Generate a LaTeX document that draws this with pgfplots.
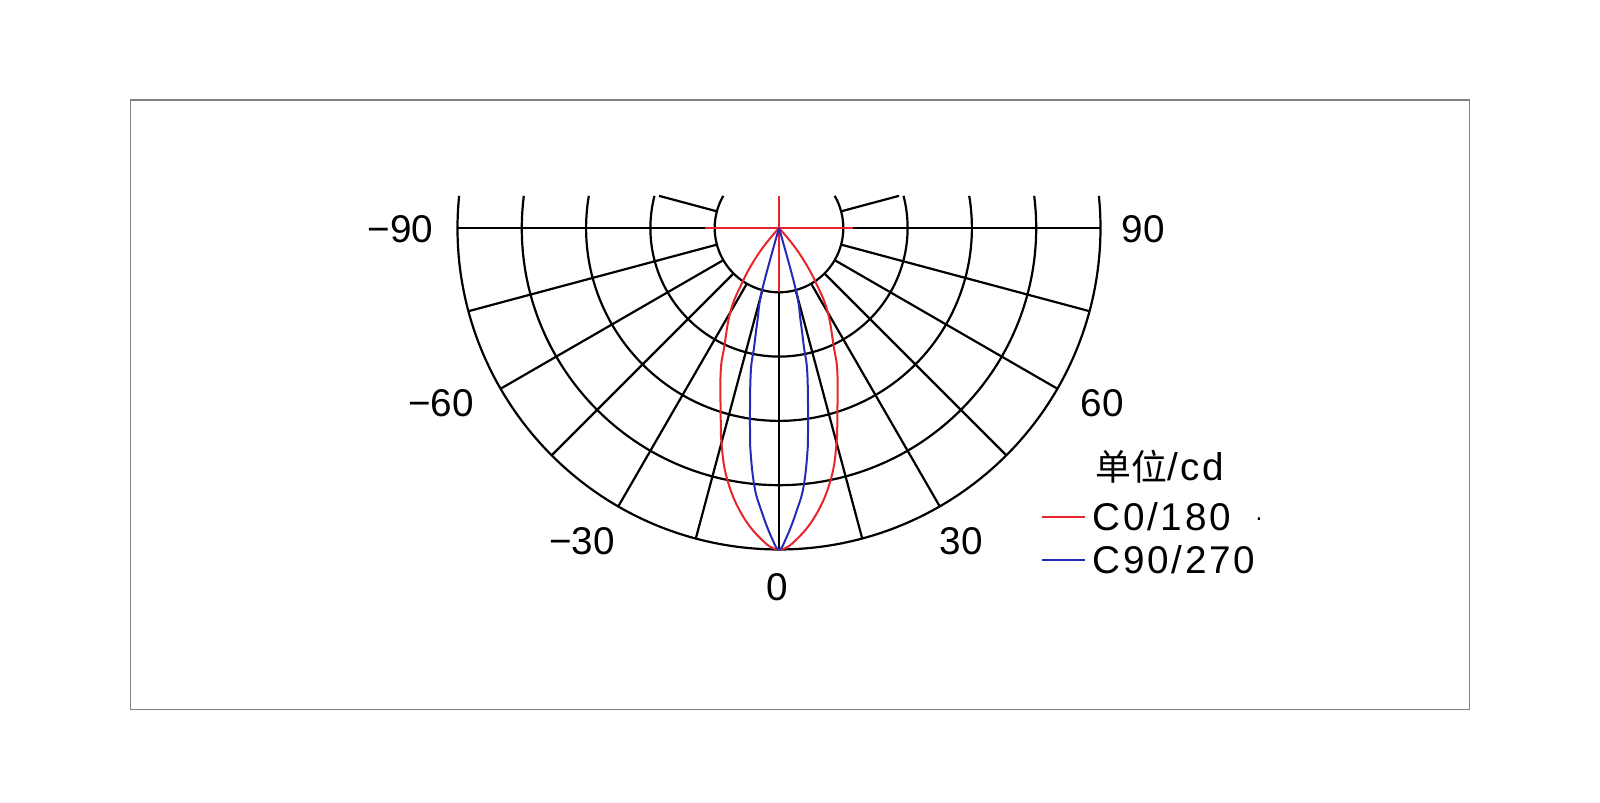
\documentclass[border=0pt]{standalone}
\usepackage{fontspec}
\usepackage{pgfplots}
\pgfplotsset{compat=1.18}
\newfontfamily\lab{Liberation Sans}
\newfontfamily\leg{Liberation Sans}[LetterSpace=7]
\newfontfamily\cjk{Noto Sans CJK SC}
\definecolor{cred}{RGB}{232,36,44}
\definecolor{cblue}{RGB}{40,40,185}
\definecolor{frame}{RGB}{128,128,128}

% intensity curves: (polar angle in axis convention, radius in grid units)
% grid: one unit = one ring, the 0 deg direction points down (angle -90)
\begin{document}
\begin{tikzpicture}
\useasboundingbox (0,0) rectangle (160mm,80.3mm);
\draw[frame, line width=0.15mm] (13.05mm,9.35mm) rectangle (146.95mm,70.3mm);

% polar grid, clipped half a ring above the 90 line
\begin{scope}[shift={(77.9mm,57.5mm)}, x=6.43mm, y=6.43mm, line width=0.22mm]
  \foreach \r in {1,...,5} {
    \pgfmathsetmacro\a{asin(0.5/\r)}
    \draw ({180-\a}:\r) arc[start angle={180-\a}, end angle={360+\a}, radius=\r*6.43mm];
  }
  \foreach \t in {-180,-165,...,0}
    \draw (\t:1) -- (\t:5);
  \draw (165:1) -- (165:1.932);
  \draw (15:1) -- (15:1.932);
  \draw[cred, line width=0.2mm] (-1.15,0) -- (1.15,0);
  \draw[cred, line width=0.2mm] (0,0.5) -- (0,-1);
\end{scope}

\begin{axis}[at={(77.9mm,57.5mm)}, anchor=origin,
    x=6.43mm, y=6.43mm, xmin=-5, xmax=5, ymin=-5, ymax=0.5,
    hide axis, clip=false]
\addplot[cred, line width=0.2mm, smooth, tension=0.7, data cs=polar] coordinates {
  (-132,0) (-130,0.34) (-127,0.68) (-124,1.02) (-120.3,1.49) (-114.7,2.04)
  (-112.1,2.41) (-107.3,3.05) (-104.8,3.49) (-101.8,3.97) (-97.8,4.45)
  (-93.5,4.83) (-90,5.0)
  (-86.5,4.83) (-82.2,4.45) (-78.2,3.97) (-75.2,3.49) (-72.7,3.05)
  (-67.9,2.41) (-65.3,2.04) (-59.7,1.49) (-56,1.02) (-53,0.68) (-50,0.34) (-48,0)
};
\addplot[cblue, line width=0.2mm, smooth, tension=0.7, data cs=polar] coordinates {
  (-105.4,0) (-105.2,1.0) (-103.1,1.48) (-101.8,1.9) (-101.1,2.28)
  (-98.7,2.99) (-97.6,3.40) (-95.5,4.02) (-93.5,4.42) (-91.35,4.82)
  (-90,5.0)
  (-88.65,4.82) (-86.5,4.42) (-84.5,4.02) (-82.4,3.40) (-81.3,2.99)
  (-78.9,2.28) (-78.2,1.9) (-76.9,1.48) (-74.8,1.0) (-74.6,0)
};
\end{axis}

% angle labels
\begin{scope}[every node/.style={font=\lab\fontsize{11}{13}\selectfont, inner sep=0pt}]
  \node at (40.05mm,57.4mm) {−90};
  \node at (114.3mm,57.4mm) {90};
  \node at (44.1mm,40.0mm) {−60};
  \node at (110.2mm,40.0mm) {60};
  \node at (58.2mm,26.2mm) {−30};
  \node at (96.1mm,26.2mm) {30};
  \node at (77.75mm,21.6mm) {0};
  % legend
  \node[anchor=west] at (109.5mm,33.6mm) {{\cjk\fontsize{10.2}{12}\selectfont 单位}\leg /cd};
  \draw[cred, line width=0.2mm] (104.2mm,28.6mm) -- (108.5mm,28.6mm);
  \node[anchor=west] at (109.2mm,28.6mm) {\leg C0/180};
  \node[anchor=west, font=\lab\fontsize{7}{8}\selectfont] at (125.5mm,28.4mm) {.};
  \draw[cblue, line width=0.2mm] (104.2mm,24.3mm) -- (108.5mm,24.3mm);
  \node[anchor=west] at (109.2mm,24.3mm) {\leg C90/270};
\end{scope}
\end{tikzpicture}
\end{document}
